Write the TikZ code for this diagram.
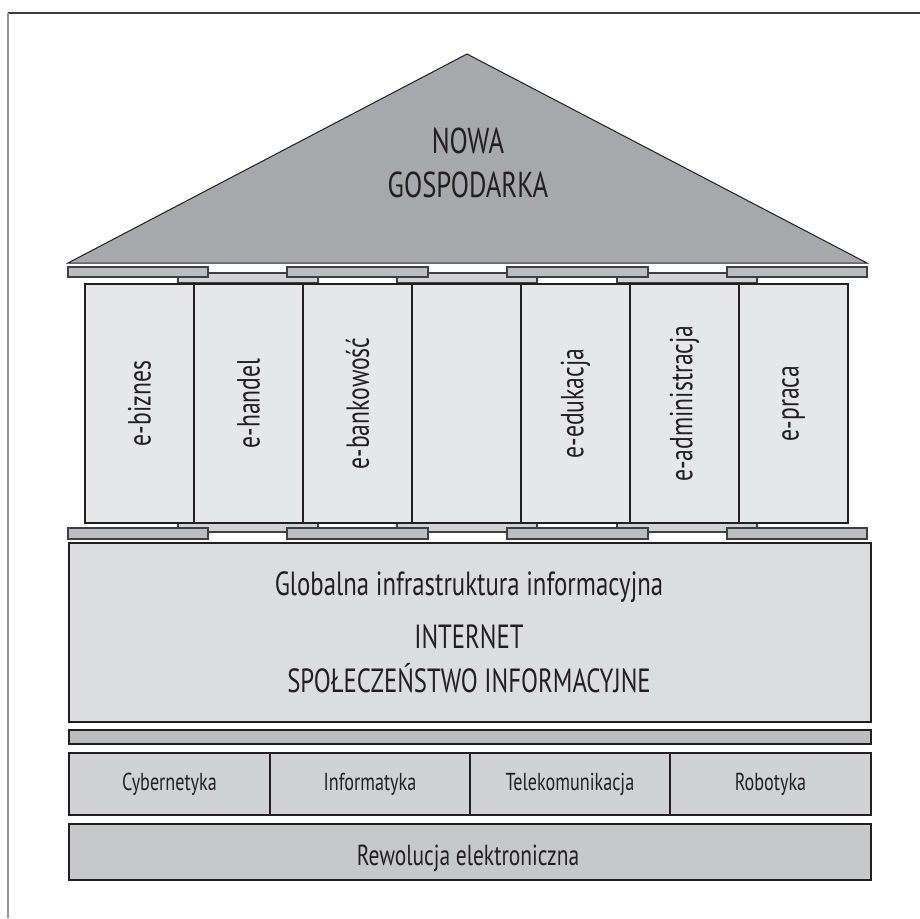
\documentclass[tikz,border=0pt]{standalone}
\usepackage{fontspec}
\setmainfont[FakeStretch=0.74]{PT Sans}
\definecolor{inkc}{HTML}{231F20}
\definecolor{slabedge}{HTML}{404042}
\definecolor{roofc}{HTML}{A7A8AB}
\definecolor{slabc}{HTML}{BCBDC0}
\definecolor{stripc}{HTML}{D1D2D4}
\definecolor{colc}{HTML}{E6E7E8}
\definecolor{infrac}{HTML}{DCDDDE}
\definecolor{cellc}{HTML}{D1D2D4}
\definecolor{basec}{HTML}{C7C8CA}
\definecolor{frametop}{HTML}{3C3C3C}
\definecolor{frameleft}{HTML}{969696}
\begin{document}
\begin{tikzpicture}[x=1pt,y=-1pt,
  slabline/.style={draw=slabedge,line width=1.3pt},
  boxline/.style={draw=inkc,line width=2pt},
  colbox/.style={boxline,fill=colc,rectangle,inner sep=0pt,
    minimum width=109pt,minimum height=239pt,anchor=north west},
  coltext/.style={rotate=90,font=\fontsize{32}{32}\selectfont,text=inkc},
  cell/.style={boxline,fill=cellc,rectangle,inner sep=0pt,
    minimum height=62pt,anchor=north west,font=\fontsize{24.5}{24.5}\selectfont,text=inkc},
  label/.style={anchor=base,inner sep=0pt,text=inkc}
]
\useasboundingbox (0,0) rectangle (920,918);

% page frame
\draw[line width=1.3pt,frametop] (8,13) -- (920,13);
\draw[line width=1.3pt,frameleft] (8,13) -- (8,918);

% roof
\draw[fill=roofc,draw=inkc,line width=1pt,line join=miter]
  (68,263) -- (467,54) -- (867,263) -- cycle;
\node[label,font=\fontsize{36}{36}\selectfont] (nowa) at (468,153) {NOWA};
\node[label,font=\fontsize{36}{36}\selectfont] (gosp) at (468,197) {GOSPODARKA};

% upper capital: connecting strips, then slabs
\foreach \a in {178,397,617}
  \draw[fill=stripc,slabline] (\a,273) rectangle (\a+140,283);
\foreach \a/\b in {68/208,287/428,507/648,727/867}
  \draw[fill=slabc,slabline] (\a,267) rectangle (\b,277);

% lower capital
\foreach \a in {178,397,617}
  \draw[fill=stripc,slabline] (\a,522) rectangle (\a+140,532);
\foreach \a/\b in {68/208,287/428,507/648,727/867}
  \draw[fill=slabc,slabline] (\a,528) rectangle (\b,539);

% columns
\node[colbox] (c1) at (84,283) {};
\node[colbox] (c2) at (193,283) {};
\node[colbox] (c3) at (302,283) {};
\node[colbox] (c4) at (411,283) {};
\node[colbox] (c5) at (520,283) {};
\node[colbox] (c6) at (629,283) {};
\node[colbox] (c7) at (738,283) {};
\node[coltext] (t1) at (c1.center) {e-biznes};
\node[coltext] (t2) at (c2.center) {e-handel};
\node[coltext] (t3) at (c3.center) {e-bankowość};
\node[coltext] (t5) at (c5.center) {e-edukacja};
\node[coltext] (t6) at (c6.center) {e-administracja};
\node[coltext] (t7) at (c7.center) {e-praca};

% information infrastructure
\node[boxline,fill=infrac,rectangle,inner sep=0pt,
  minimum width=802pt,minimum height=179pt,anchor=north west] (infra) at (68,542) {};
\node[label,font=\fontsize{33.5}{33.5}\selectfont] (glob) at (469,595) {Globalna infrastruktura informacyjna};
\node[label,font=\fontsize{33.5}{33.5}\selectfont] (inet) at (469,648) {INTERNET};
\node[label,font=\fontsize{33.5}{33.5}\selectfont] (spol) at (469,692) {SPOŁECZEŃSTWO INFORMACYJNE};

% thin bar
\node[boxline,fill=slabc,rectangle,inner sep=0pt,minimum width=802pt,minimum height=14pt,
  anchor=north west] (bar) at (68,729) {};

% disciplines
\node[cell,minimum width=201pt] (cyb) at (68,752) {Cybernetyka};
\node[cell,minimum width=200pt] (inf) at (269,752) {Informatyka};
\node[cell,minimum width=200pt] (tel) at (469,752) {Telekomunikacja};
\node[cell,minimum width=201pt] (rob) at (669,752) {Robotyka};

% base
\node[boxline,fill=basec,rectangle,inner sep=0pt,
  minimum width=802pt,minimum height=56pt,anchor=north west] (base) at (68,823) {};
\node[label,font=\fontsize{29}{29}\selectfont] (rew) at (468,865) {Rewolucja elektroniczna};
\end{tikzpicture}
\end{document}
